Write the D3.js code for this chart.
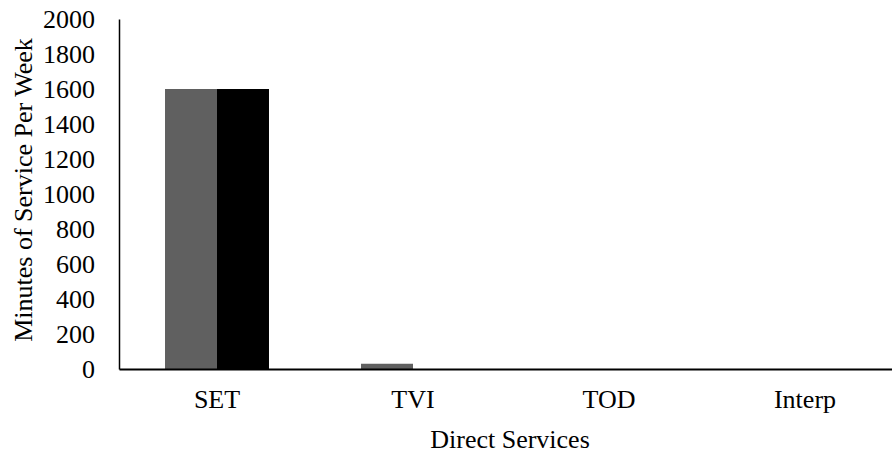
<!DOCTYPE html>
<html>
<head>
<meta charset="utf-8">
<script src="https://cdn.jsdelivr.net/npm/d3@7"></script>
<style>
  html, body { margin: 0; padding: 0; background: #fff; }
  svg { display: block; }
  text { font-family: "Liberation Serif", "Times New Roman", serif; fill: #000; }
</style>
</head>
<body>
<svg id="chart" width="892" height="458"></svg>
<script>
// Minutes of service per week by direct service type, two groups
const categories = ["SET", "TVI", "TOD", "Interp"];
const seriesNames = ["Group 1", "Group 2"];
const group1 = [1600, 30, 0, 0];
const group2 = [1600, 0, 0, 0];
const yTicks = [0, 200, 400, 600, 800, 1000, 1200, 1400, 1600, 1800, 2000];
const colors = ["#606060", "#000000"];

const svg = d3.select("#chart");
const plotLeft = 119, plotBottom = 369, plotTop = 19;
const step = 196;
const fontSize = "26px";

const x = d3.scaleBand()
  .domain(categories)
  .range([plotLeft, plotLeft + step * categories.length])
  .paddingInner(0).paddingOuter(0);

const xs = d3.scaleBand()
  .domain(seriesNames)
  .range([0, x.bandwidth()])
  .paddingInner(0)
  .paddingOuter(0.885);

const y = d3.scaleLinear().domain([0, 2000]).range([plotBottom, plotTop]);

const rows = categories.map((c, i) => ({ cat: c, vals: [group1[i], group2[i]] }));

// bars
const g = svg.append("g");
rows.forEach(r => {
  r.vals.forEach((v, j) => {
    g.append("rect")
      .attr("x", x(r.cat) + xs(seriesNames[j]))
      .attr("y", y(v))
      .attr("width", xs.bandwidth())
      .attr("height", plotBottom - y(v))
      .attr("fill", colors[j]);
  });
});

// y axis
const yAxis = d3.axisLeft(y).tickValues(yTicks).tickFormat(d3.format("d"))
  .tickSize(0).tickPadding(24);
const yg = svg.append("g").attr("transform", `translate(${plotLeft},0)`).call(yAxis);
yg.select(".domain").attr("stroke", "#000").attr("stroke-width", 1.5);
yg.selectAll("text").style("font-size", fontSize).attr("fill", "#000").attr("dy", "0.34em");

// x axis
const xAxis = d3.axisBottom(x).tickSize(0).tickPadding(0);
const xg = svg.append("g").attr("transform", `translate(0,${plotBottom})`).call(xAxis);
xg.select(".domain").attr("stroke", "#000").attr("stroke-width", 2);
xg.selectAll("text").style("font-size", fontSize).attr("fill", "#000")
  .attr("y", 39).attr("dy", 0);

// axis titles
svg.append("text")
  .attr("x", 510).attr("y", 448)
  .attr("text-anchor", "middle")
  .style("font-size", fontSize)
  .text("Direct Services");

svg.append("text")
  .attr("transform", `translate(32,190) rotate(-90)`)
  .attr("text-anchor", "middle")
  .style("font-size", fontSize)
  .text("Minutes of Service Per Week");
</script>
</body>
</html>
